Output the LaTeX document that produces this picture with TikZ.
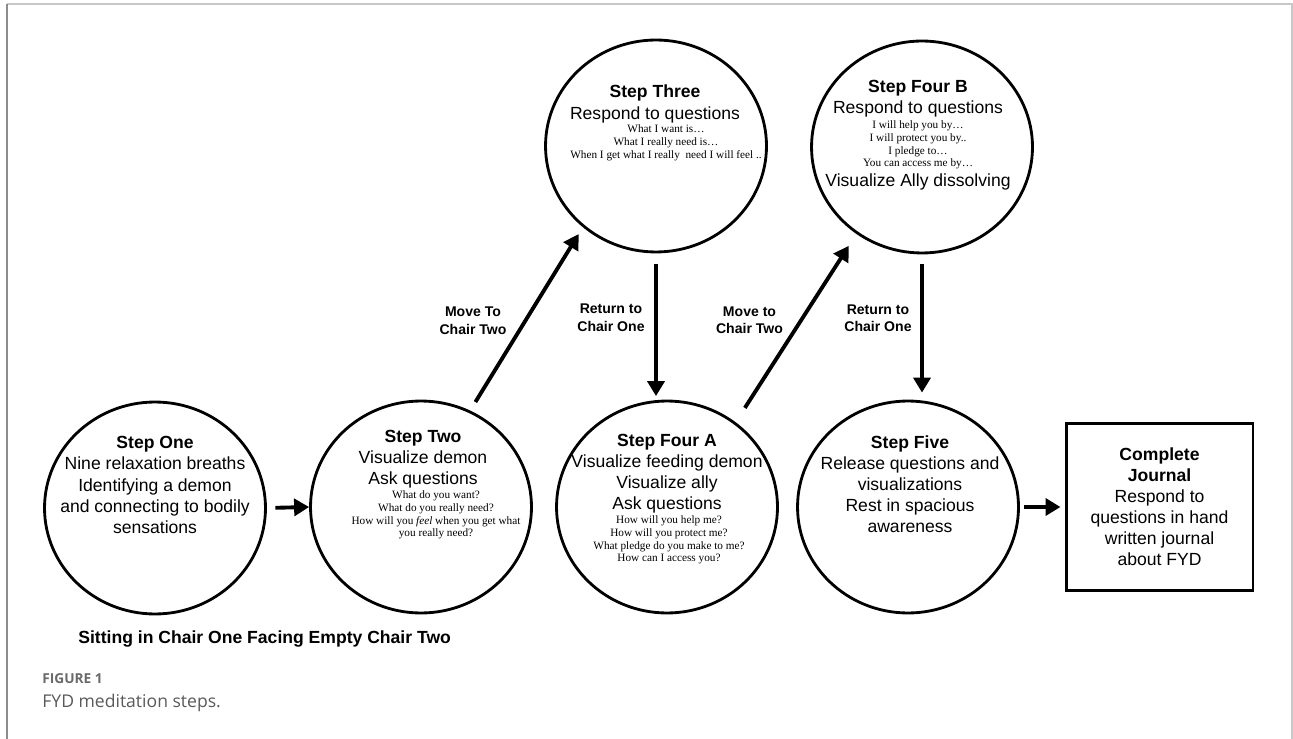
\documentclass[tikz,border=0pt]{standalone}
\usepackage{fontspec}
\setmainfont{Liberation Sans}
\newfontfamily\qfont{Liberation Serif}
\newfontfamily\capfont{Open Sans}
\usepackage{tikz}
\usetikzlibrary{positioning, shapes.geometric, arrows.meta}
\definecolor{framedark}{HTML}{8C8C8C}
\definecolor{framelight}{HTML}{C8C8C8}
\definecolor{capgray}{HTML}{6A6A6A}
\definecolor{captext}{HTML}{5A5A5A}

\begin{document}
\begin{tikzpicture}[
    x=0.02cm, y=-0.02cm,
    stepc/.style={ellipse, draw, line width=1.6pt, minimum width=4.42cm, minimum height=4.24cm, inner sep=0pt},
    txt/.style={align=center, inner sep=0pt, font=\fontsize{10}{12}\selectfont},
    qtxt/.style={align=center, inner sep=0pt, font=\qfont\fontsize{6.4}{7.3}\selectfont},
    journal/.style={rectangle, draw, line width=1.7pt, minimum width=3.74cm, minimum height=3.36cm, align=center, font=\fontsize{10}{12}\selectfont},
    arrow/.style={-{Triangle[length=0.3cm, width=0.34cm]}, line width=2.2pt},
    move/.style={align=center, inner sep=0pt, font=\bfseries\fontsize{8}{9.7}\selectfont}
  ]

    \fill[white] (0,0) rectangle (1293,739);
    \useasboundingbox (0,0) rectangle (1293,739);
    \draw[framelight, line width=1.2pt] (7,4) -- (1292,4) -- (1292,739);
    \draw[framedark, line width=1.2pt] (7,739) -- (7,4);

    \node[stepc] (s1) at (155,508) {};
    \node[stepc] (s2) at (421,507) {};
    \node[stepc] (s3) at (656,146) {};
    \node[stepc] (s4a) at (667,507) {};
    \node[stepc] (s4b) at (922,147) {};
    \node[stepc] (s5) at (908,507) {};
    \node[journal] (jr) at (1159.5,507) {\textbf{Complete}\\\textbf{Journal}\\Respond to\\questions in hand\\written journal\\about FYD};

    \node[txt] (s1t) at (155,485) {\textbf{Step One}\\Nine relaxation breaths\\Identifying a demon\\and connecting to bodily\\sensations};
    \node[txt] (s2t) at (423,459) {\textbf{Step Two}\\Visualize demon\\Ask questions};
    \node[qtxt] (s2q) at (436,515) {What do you want?\\What do you really need?\\How will you \textit{feel} when you get what\\you really need?};
    \node[txt] (s3t) at (655,104) {\textbf{Step Three}\\Respond to questions};
    \node[qtxt] (s3q) at (666,143) {What I want is…\\What I really need is…\\When I get what I really\ \ need I will feel ..};
    \node[txt] (s4at) at (667,473.5) {\textbf{Step Four A}\\Visualize feeding demon\\Visualize ally\\Ask questions};
    \node[qtxt] (s4aq) at (669,540) {How will you help me?\\How will you protect me?\\What pledge do you make to me?\\How can I access you?};
    \node[txt] (s4bt) at (918,99) {\textbf{Step Four B}\\Respond to questions};
    \node[qtxt] (s4bq) at (918,145) {I will help you by…\\I will protect you by..\\I pledge to…\\You can access me by…};
    \node[txt] (s4bv) at (918,182) {Visualize Ally dissolving};
    \node[txt] (s5t) at (910,484.5) {\textbf{Step Five}\\Release questions and\\visualizations\\Rest in spacious\\awareness};

    \draw[arrow, shorten <=4.8pt] (s1.east) -- (s2.west);
    \draw[arrow, shorten <=5.7pt, shorten >=4.6pt] (s2.63) -- node[move, pos=0.49, left=0.34cm] (m1) {Move To\\Chair Two} (s3.228);
    \draw[arrow, shorten <=6.3pt, shorten >=2pt] (s3.south) -- node[move, pos=0.44, left=0.19cm] (r1) {Return to\\Chair One} (s3.south |- s4a.north);
    \draw[arrow, shorten <=9.7pt, shorten >=8pt] (s4a.51) -- node[move, pos=0.54, left=0.32cm] (m2) {Move to\\Chair Two} (s4b.233);
    \draw[arrow, shorten <=5.7pt, shorten >=4pt] (s4b.south) -- node[move, pos=0.44, left=0.17cm] (r2) {Return to\\Chair One} (s4b.south |- s5.north);
    \draw[arrow, shorten <=2.6pt, shorten >=2.3pt] (s5.east) -- (jr.west);

    \node[anchor=west, inner sep=0pt, font=\bfseries\fontsize{10}{12}\selectfont] (chair) at (78,638.5) {Sitting in Chair One Facing Empty Chair Two};
    \node[anchor=west, inner sep=0pt, font=\capfont\bfseries\fontsize{7.8}{9}\selectfont, text=capgray] (fig) at (42,679) {FIGURE 1};
    \node[anchor=west, inner sep=0pt, font=\capfont\fontsize{10}{12}\selectfont, text=captext] (cap) at (42,703) {FYD meditation steps.};

  \end{tikzpicture}
\end{document}
